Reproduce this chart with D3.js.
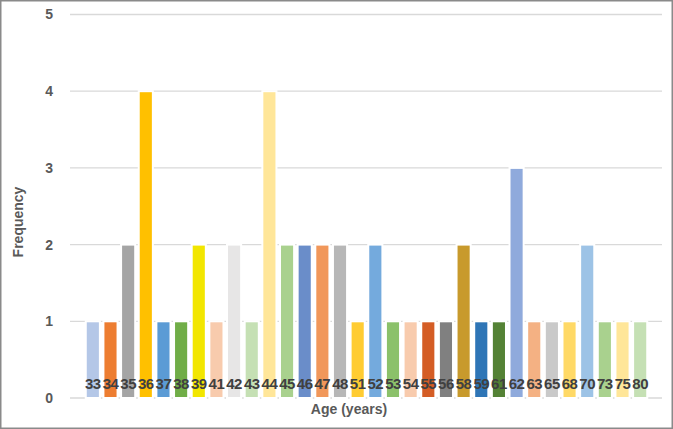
<!DOCTYPE html>
<html>
<head>
<meta charset="utf-8">
<script src="https://cdn.jsdelivr.net/npm/d3@7"></script>
<style>
  body { margin: 0; background: #fff; }
  svg { display: block; }
</style>
</head>
<body>
<div id="chart-area"></div>
<script>
// ages on the x axis
const ages = ["33", "34", "35", "36", "37", "38", "39", "41", "42", "43", "44", "45", "46", "47", "48",
  "51", "52", "53", "54", "55", "56", "58", "59", "61", "62", "63", "65", "68", "70", "73", "75", "80"];
// frequency for each age
const freq = [1, 1, 2, 4, 1, 1, 2, 1, 2, 1, 4, 2, 2, 2, 2,
  1, 2, 1, 1, 1, 1, 2, 1, 1, 3, 1, 1, 1, 2, 1, 1, 1];
const barColors = ["#b4c7e7", "#ed7d31", "#a5a5a5", "#ffc000", "#5b9bd5", "#70ad47", "#f2e600", "#f8cbad",
  "#e7e6e6", "#c5e0b4", "#ffe699", "#a9d18e", "#6a8dc9", "#f1975a", "#b7b7b7",
  "#ffcc32", "#74aadd", "#8bc16a", "#f8cbad", "#d45d25", "#808080", "#c89a2c", "#2e75b6",
  "#548235", "#8faadc", "#f4b183", "#c9c9c9", "#ffd966", "#9dc3e6", "#a9d18e", "#ffe699", "#c5e0b4"];
const yTicks = [0, 1, 2, 3, 4, 5];

const width = 673, height = 429;

const svg = d3.select("#chart-area").append("svg")
  .attr("width", width)
  .attr("height", height);

// outer border
svg.append("rect")
  .attr("x", 0.75).attr("y", 0.75)
  .attr("width", width - 1.5).attr("height", height - 1.5)
  .attr("fill", "#fff")
  .attr("stroke", "#8a8a8a")
  .attr("stroke-width", 1.5);

const x = d3.scaleBand()
  .domain(ages)
  .range([84, 649])
  .paddingInner(0.2)
  .paddingOuter(0.1);

const y = d3.scaleLinear()
  .domain([0, 5])
  .range([398, 14.5]);

// gridlines
svg.append("g")
  .selectAll("line")
  .data(yTicks)
  .enter()
  .append("line")
  .attr("x1", 70)
  .attr("x2", 662)
  .attr("y1", d => y(d))
  .attr("y2", d => y(d))
  .attr("stroke", "#d9d9d9")
  .attr("stroke-width", 1.3);

// y tick labels
svg.append("g")
  .selectAll("text")
  .data(yTicks)
  .enter()
  .append("text")
  .attr("x", 53)
  .attr("y", d => y(d))
  .attr("dy", "0.35em")
  .attr("text-anchor", "end")
  .attr("font-family", "Liberation Sans, Arial, sans-serif")
  .attr("font-weight", "bold")
  .attr("font-size", 14)
  .attr("fill", "#595959")
  .text(d => d);

// bars
svg.append("g")
  .selectAll("rect")
  .data(freq)
  .enter()
  .append("rect")
  .attr("x", (d, i) => x(ages[i]))
  .attr("y", d => y(d))
  .attr("width", x.bandwidth())
  .attr("height", d => y(0) - y(d))
  .attr("fill", (d, i) => barColors[i])
  .attr("stroke", "#fff")
  .attr("stroke-width", 2);

// labels inside bars
svg.append("g")
  .selectAll("text")
  .data(ages)
  .enter()
  .append("text")
  .attr("x", d => x(d) + x.bandwidth() / 2)
  .attr("y", 389)
  .attr("text-anchor", "middle")
  .attr("font-family", "Liberation Sans, Arial, sans-serif")
  .attr("font-weight", "bold")
  .attr("font-size", 15)
  .attr("letter-spacing", -0.5)
  .attr("fill", "#404040")
  .text(d => d);

// axis titles
svg.append("text")
  .attr("x", 349)
  .attr("y", 414)
  .attr("text-anchor", "middle")
  .attr("font-family", "Liberation Sans, Arial, sans-serif")
  .attr("font-weight", "bold")
  .attr("font-size", 14)
  .attr("fill", "#595959")
  .text("Age (years)");

svg.append("text")
  .attr("transform", "translate(23,222) rotate(-90)")
  .attr("text-anchor", "middle")
  .attr("font-family", "Liberation Sans, Arial, sans-serif")
  .attr("font-weight", "bold")
  .attr("font-size", 14)
  .attr("fill", "#595959")
  .text("Frequency");
</script>
</body>
</html>
